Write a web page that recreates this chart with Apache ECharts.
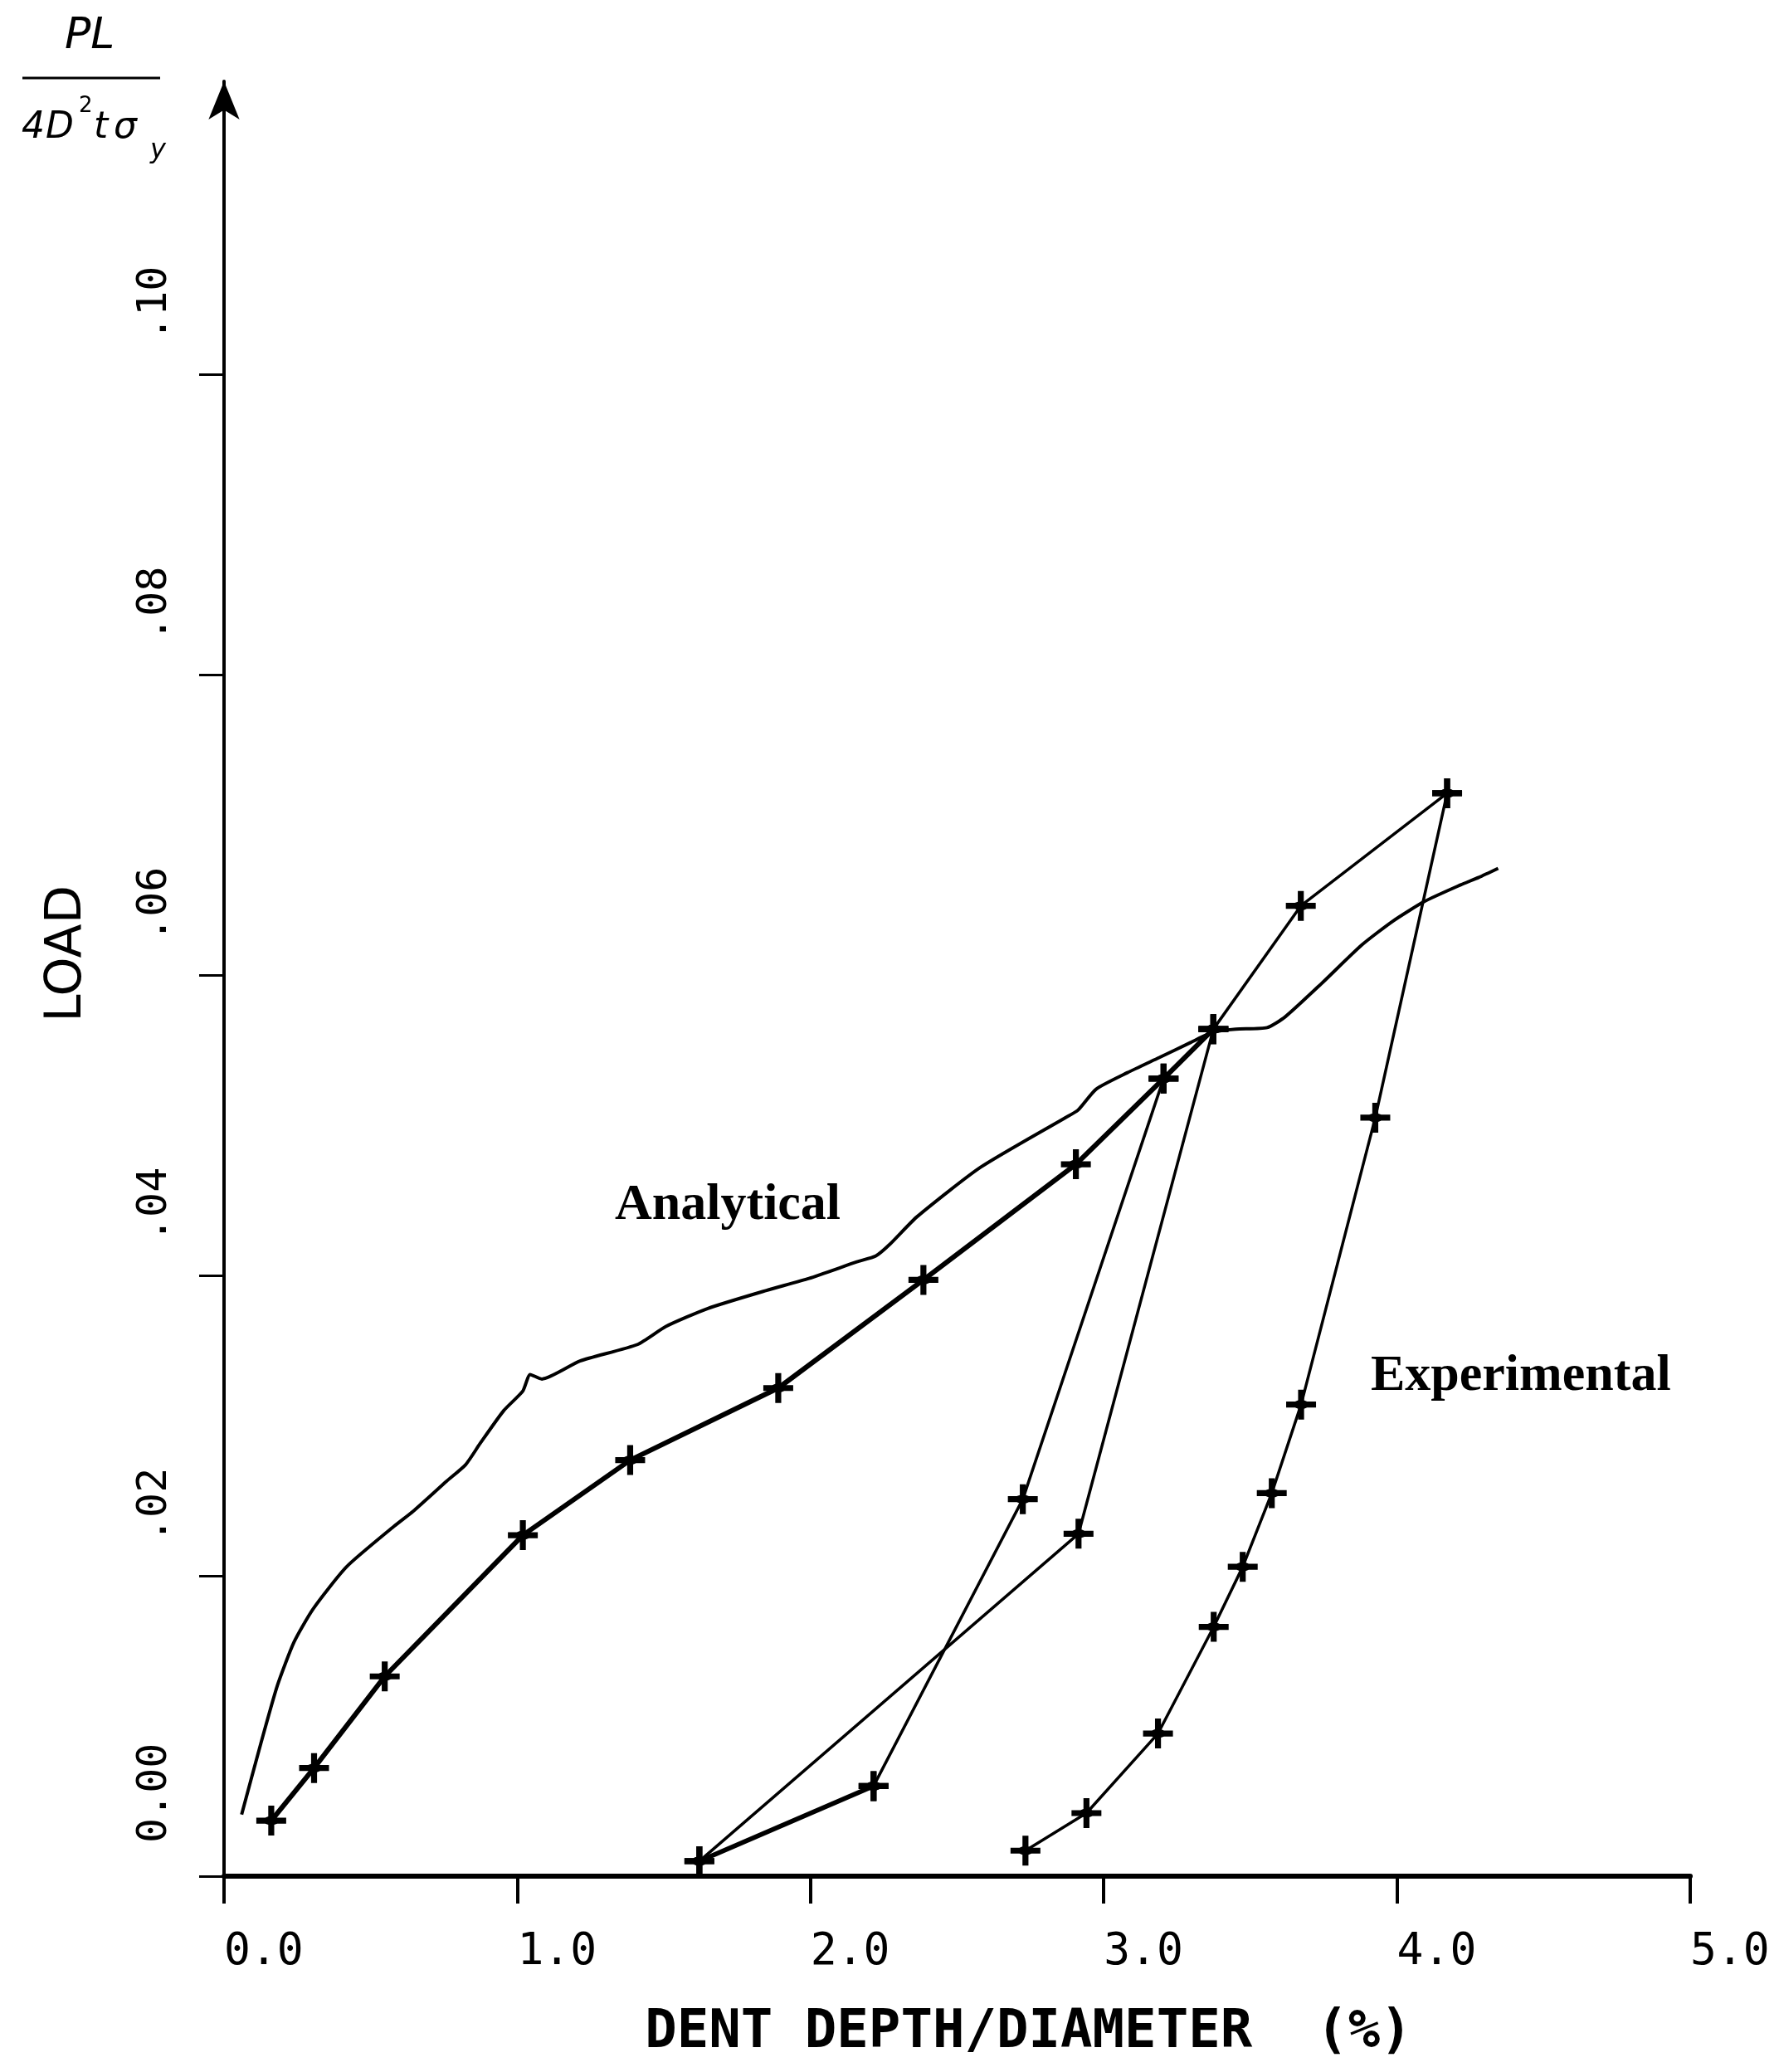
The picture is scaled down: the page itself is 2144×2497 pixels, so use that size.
<!DOCTYPE html>
<html>
<head>
<meta charset="utf-8">
<title>Load vs dent depth</title>
<script src="https://cdn.jsdelivr.net/npm/echarts@6/dist/echarts.min.js"></script>
<style>
  html, body { margin: 0; padding: 0; background: #fff; }
  #main { width: 2144px; height: 2497px; }
</style>
</head>
<body>
<div id="main"></div>
<script>
// analytical curve
var anaX = [0.060, 0.125, 0.182, 0.239, 0.304, 0.418, 0.580, 0.645, 0.759, 0.824, 0.873, 0.954, 1.019, 1.044, 1.084,
            1.214, 1.410, 1.507, 1.650, 1.850, 1.995, 2.158, 2.223, 2.272, 2.363, 2.580, 2.869, 2.912, 2.974, 3.081,
            3.189, 3.296, 3.373, 3.450, 3.557, 3.618, 3.741, 3.880, 3.987, 4.094, 4.217, 4.279, 4.345];
var anaY = [0.0041, 0.0088, 0.0127, 0.0156, 0.0178, 0.0206, 0.0233, 0.0243, 0.0263, 0.0274, 0.0288, 0.0310, 0.0323, 0.0334, 0.0331,
            0.0343, 0.0354, 0.0366, 0.0378, 0.0390, 0.0398, 0.0409, 0.0413, 0.0421, 0.0439, 0.0472, 0.0505, 0.0510, 0.0524, 0.0535,
            0.0545, 0.0555, 0.0562, 0.0564, 0.0565, 0.0572, 0.0594, 0.0620, 0.0636, 0.0649, 0.0660, 0.0665, 0.0671];

// experimental: first loading
var loadX = [0.161, 0.307, 0.548, 1.019, 1.385, 1.890, 2.385, 2.905, 3.204, 3.374];
var loadY = [0.0037, 0.0072, 0.0133, 0.0227, 0.0277, 0.0325, 0.0397, 0.0474, 0.0531, 0.0564];
// first unloading
var unload1X = [3.374, 2.914, 1.621];
var unload1Y = [0.0564, 0.0228, 0.0010];
// reloading (first leg drawn heavier, as in the plot)
var reloadStartX = [1.621, 2.215];
var reloadStartY = [0.0010, 0.0060];
var reloadX = [2.215, 2.724, 3.204, 3.374, 3.672, 4.171];
var reloadY = [0.0060, 0.0251, 0.0531, 0.0564, 0.0646, 0.0721];
// second unloading
var unload2X = [4.171, 3.926, 3.673, 3.573, 3.474, 3.375, 3.185, 2.941, 2.733];
var unload2Y = [0.0721, 0.0505, 0.0314, 0.0255, 0.0206, 0.0166, 0.0095, 0.0042, 0.0017];

var yTicks = [0, 0.02, 0.04, 0.06, 0.08, 0.10];
var yTickLabels = ['0.00', '.02', '.04', '.06', '.08', '.10'];

function pairs(xs, ys) {
    return xs.map(function (x, i) { return [x, ys[i]]; });
}

// fat plus sign used as the data marker
var cross = 'path://M4,0 L6,0 L6,3.6 L7,4 L10,4 L10,6 L7,6 L6,6.4 L6,10 L4,10 L4,6.4 L3,6 L0,6 L0,4 L3,4 L4,3.6 Z';

function expSeries(xs, ys, w) {
    return {
        type: 'line',
        data: pairs(xs, ys),
        symbol: cross,
        symbolSize: 36,
        itemStyle: { color: '#000' },
        lineStyle: { color: '#000', width: w }
    };
}

var myChart = echarts.init(document.getElementById('main'));

var option = {
    animation: false,
    backgroundColor: '#fff',
    grid: { left: 270, right: 107, top: 98, bottom: 236, containLabel: false },
    xAxis: {
        type: 'value', min: 0, max: 5, interval: 1,
        name: 'DENT DEPTH/DIAMETER  (%)',
        nameLocation: 'middle', nameGap: 157,
        nameTextStyle: { fontFamily: 'DejaVu Sans Mono', fontSize: 64, fontWeight: 'bold', color: '#000', padding: [0, 0, 0, 172] },
        axisLine: { lineStyle: { color: '#000', width: 6 } },
        axisTick: { length: 33, lineStyle: { color: '#000', width: 4 } },
        axisLabel: {
            formatter: function (v) { return v.toFixed(1); },
            align: 'left', margin: 66,
            fontFamily: 'DejaVu Sans Mono', fontSize: 53, color: '#000'
        },
        splitLine: { show: false }
    },
    yAxis: {
        type: 'value', min: 0, max: 0.1195,
        name: 'LOAD',
        nameLocation: 'middle', nameRotate: 90, nameGap: 159,
        nameTextStyle: { fontFamily: 'DejaVu Sans', fontSize: 60, color: '#000', padding: [0, 0, 0, 60] },
        axisLine: { lineStyle: { color: '#000', width: 4 }, symbol: ['none', 'arrow'], symbolSize: [28, 46] },
        axisTick: { customValues: yTicks, length: 30, lineStyle: { color: '#000', width: 3 } },
        axisLabel: {
            customValues: yTicks,
            formatter: function (v) {
                for (var i = 0; i < yTicks.length; i++) {
                    if (Math.abs(v - yTicks[i]) < 1e-9) return yTickLabels[i];
                }
                return '';
            },
            rotate: 90, align: 'left', margin: 58, padding: [0, 0, 0, 40],
            fontFamily: 'DejaVu Sans Mono', fontSize: 50, color: '#000'
        },
        splitLine: { show: false }
    },
    graphic: [
        { type: 'text', x: 78, y: 44, style: { text: 'PL', font: 'italic 52px "DejaVu Sans"', fill: '#000', align: 'left', verticalAlign: 'middle' } },
        { type: 'line', shape: { x1: 27, y1: 94, x2: 193, y2: 94 }, style: { stroke: '#000', lineWidth: 3 } },
        { type: 'text', x: 26, y: 155, style: { text: '4', font: 'italic 44px "DejaVu Sans"', fill: '#000', align: 'left', verticalAlign: 'middle' } },
        { type: 'text', x: 55, y: 155, style: { text: 'D', font: 'italic 44px "DejaVu Sans"', fill: '#000', align: 'left', verticalAlign: 'middle' } },
        { type: 'text', x: 95, y: 128, style: { text: '2', font: '26px "DejaVu Sans"', fill: '#000', align: 'left', verticalAlign: 'middle' } },
        { type: 'text', x: 113, y: 155, style: { text: 't', font: 'italic 44px "DejaVu Sans"', fill: '#000', align: 'left', verticalAlign: 'middle' } },
        { type: 'text', x: 137, y: 155, style: { text: 'σ', font: 'italic 44px "DejaVu Sans"', fill: '#000', align: 'left', verticalAlign: 'middle' } },
        { type: 'text', x: 181, y: 182, style: { text: 'y', font: 'italic 32px "DejaVu Sans"', fill: '#000', align: 'left', verticalAlign: 'middle' } },
        { type: 'text', x: 741, y: 1453, style: { text: 'Analytical', font: 'bold 62px "Liberation Serif"', fill: '#000', align: 'left', verticalAlign: 'middle' } },
        { type: 'text', x: 1652, y: 1659, style: { text: 'Experimental', font: 'bold 62px "Liberation Serif"', fill: '#000', align: 'left', verticalAlign: 'middle' } }
    ],
    series: [
        {
            name: 'Analytical',
            type: 'line',
            data: pairs(anaX, anaY),
            symbol: 'none',
            smooth: 0.2,
            lineStyle: { color: '#000', width: 4 }
        },
        expSeries(loadX, loadY, 6),
        expSeries(unload1X, unload1Y, 3.5),
        expSeries(reloadStartX, reloadStartY, 5.5),
        expSeries(reloadX, reloadY, 3.5),
        expSeries(unload2X, unload2Y, 3.5)
    ]
};

myChart.setOption(option);
</script>
</body>
</html>
